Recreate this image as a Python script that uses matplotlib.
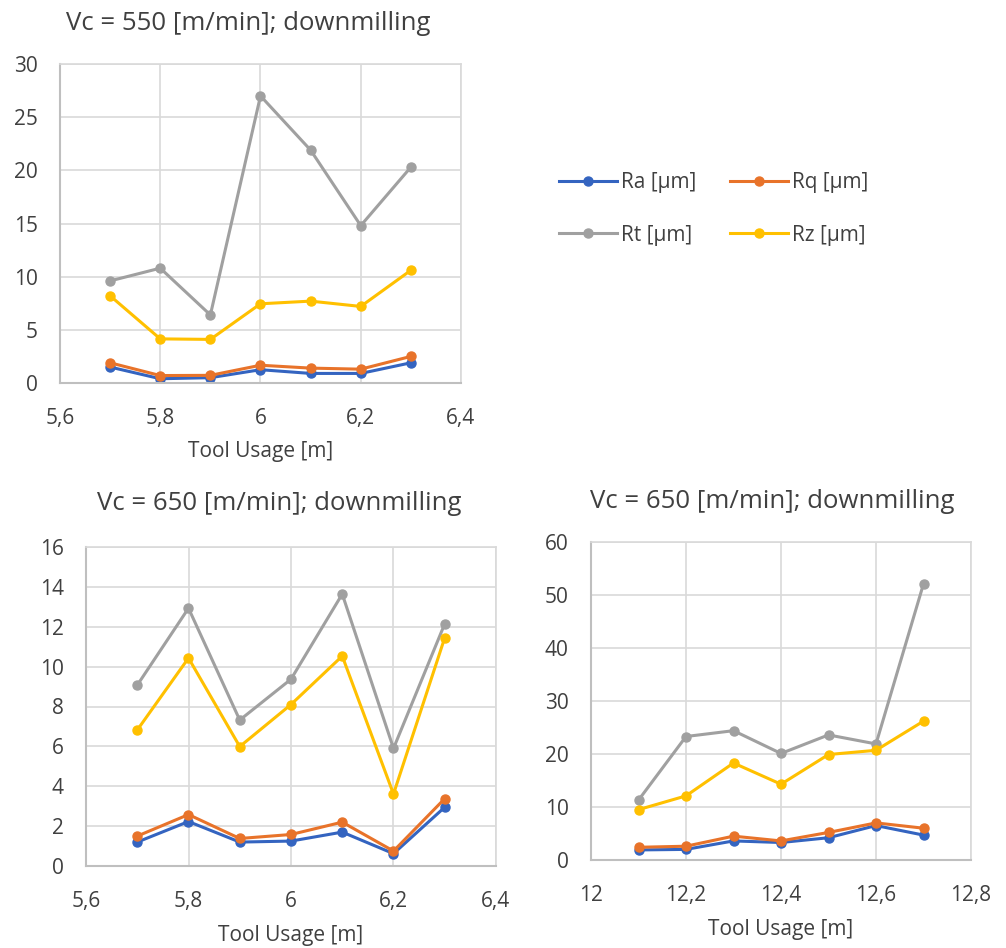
import matplotlib
matplotlib.use("Agg")
import matplotlib.pyplot as plt
from matplotlib.ticker import FuncFormatter, MultipleLocator

plt.rcParams["font.family"] = ["Open Sans", "DejaVu Sans"]

# Datos
usage_a = [5.7, 5.8, 5.9, 6.0, 6.1, 6.2, 6.3]
ra_550 = [1.5, 0.4, 0.5, 1.25, 0.9, 0.9, 1.9]
rq_550 = [1.9, 0.7, 0.72, 1.67, 1.4, 1.3, 2.5]
rt_550 = [9.6, 10.8, 6.4, 27.0, 21.9, 14.8, 20.3]
rz_550 = [8.2, 4.15, 4.1, 7.45, 7.7, 7.2, 10.6]

ra_650a = [1.2, 2.23, 1.2, 1.25, 1.7, 0.62, 2.95]
rq_650a = [1.5, 2.58, 1.38, 1.58, 2.2, 0.75, 3.38]
rt_650a = [9.07, 12.93, 7.32, 9.37, 13.64, 5.9, 12.15]
rz_650a = [6.82, 10.43, 5.99, 8.1, 10.53, 3.61, 11.45]

usage_b = [12.1, 12.2, 12.3, 12.4, 12.5, 12.6, 12.7]
ra_650b = [1.9, 2.0, 3.6, 3.3, 4.2, 6.5, 4.7]
rq_650b = [2.4, 2.6, 4.5, 3.6, 5.2, 7.0, 6.0]
rt_650b = [11.3, 23.3, 24.4, 20.1, 23.6, 21.9, 52.1]
rz_650b = [9.5, 12.1, 18.3, 14.3, 19.9, 20.7, 26.2]

labels = ["Ra [µm]", "Rq [µm]", "Rt [µm]", "Rz [µm]"]
colores = ["#3464C0", "#E8732A", "#A0A0A0", "#FFC000"]
titulos = ["Vc = 550 [m/min]; downmilling",
           "Vc = 650 [m/min]; downmilling",
           "Vc = 650 [m/min]; downmilling"]

W, H = 1006, 948
fig = plt.figure(figsize=(W / 100, H / 100), dpi=100)


def caja(x0, y0, x1, y1):
    """Convierte una caja en píxeles a coordenadas de figura."""
    return [x0 / W, 1 - y1 / H, (x1 - x0) / W, (y1 - y0) / H]


def coma(v, pos):
    s = "{:g}".format(round(v, 6))
    return s.replace(".", ",")


def panel(rect, x, series, ylim, ystep, xlim, titulo, titulo_pos):
    ax = fig.add_axes(rect)
    for vals, lab, col in zip(series, labels, colores):
        ax.plot(x, vals, color=col, lw=2.2, marker="o", ms=6.5, label=lab)
    ax.set_xlim(*xlim)
    ax.set_ylim(*ylim)
    ax.xaxis.set_major_locator(MultipleLocator(0.2))
    ax.yaxis.set_major_locator(MultipleLocator(ystep))
    ax.xaxis.set_major_formatter(FuncFormatter(coma))
    ax.yaxis.set_major_formatter(FuncFormatter(coma))
    ax.grid(True, color="#D9D9D9", lw=1.2)
    ax.set_axisbelow(True)
    for lado in ["top", "right"]:
        ax.spines[lado].set_color("#D9D9D9")
        ax.spines[lado].set_linewidth(1.2)
    for lado in ["left", "bottom"]:
        ax.spines[lado].set_color("#BFBFBF")
        ax.spines[lado].set_linewidth(1.5)
    ax.tick_params(length=0, labelsize=15, colors="#404040")
    ax.tick_params(axis="x", pad=18)
    ax.tick_params(axis="y", pad=16)
    ax.set_xlabel("Tool Usage [m]", fontsize=15, color="#404040", labelpad=9)
    fig.text(titulo_pos[0] / W, 1 - titulo_pos[1] / H, titulo, fontsize=18.5,
             color="#404040", ha="center", va="center")
    return ax


ax1 = panel(caja(60, 64, 461, 383), usage_a, [ra_550, rq_550, rt_550, rz_550],
            (0, 30), 5, (5.6, 6.4), titulos[0], (248, 24))
ax2 = panel(caja(86, 547, 496, 866), usage_a, [ra_650a, rq_650a, rt_650a, rz_650a],
            (0, 16), 2, (5.6, 6.4), titulos[1], (279, 504))
ax3 = panel(caja(591, 542, 971, 860), usage_b, [ra_650b, rq_650b, rt_650b, rz_650b],
            (0, 60), 10, (12.0, 12.8), titulos[2], (772, 502))

# leyenda en dos columnas: fila 1 Ra/Rq, fila 2 Rt/Rz
h, l = ax1.get_legend_handles_labels()
orden = [0, 2, 1, 3]
fig.legend([h[i] for i in orden], [l[i] for i in orden], loc="center left",
           bbox_to_anchor=(540 / W, 1 - 209 / H), ncol=2, frameon=False,
           fontsize=15, handlelength=2.8, handletextpad=0.2,
           columnspacing=1.6, labelspacing=1.5, labelcolor="#404040")

fig.savefig("out.png", dpi=100, facecolor="white")
